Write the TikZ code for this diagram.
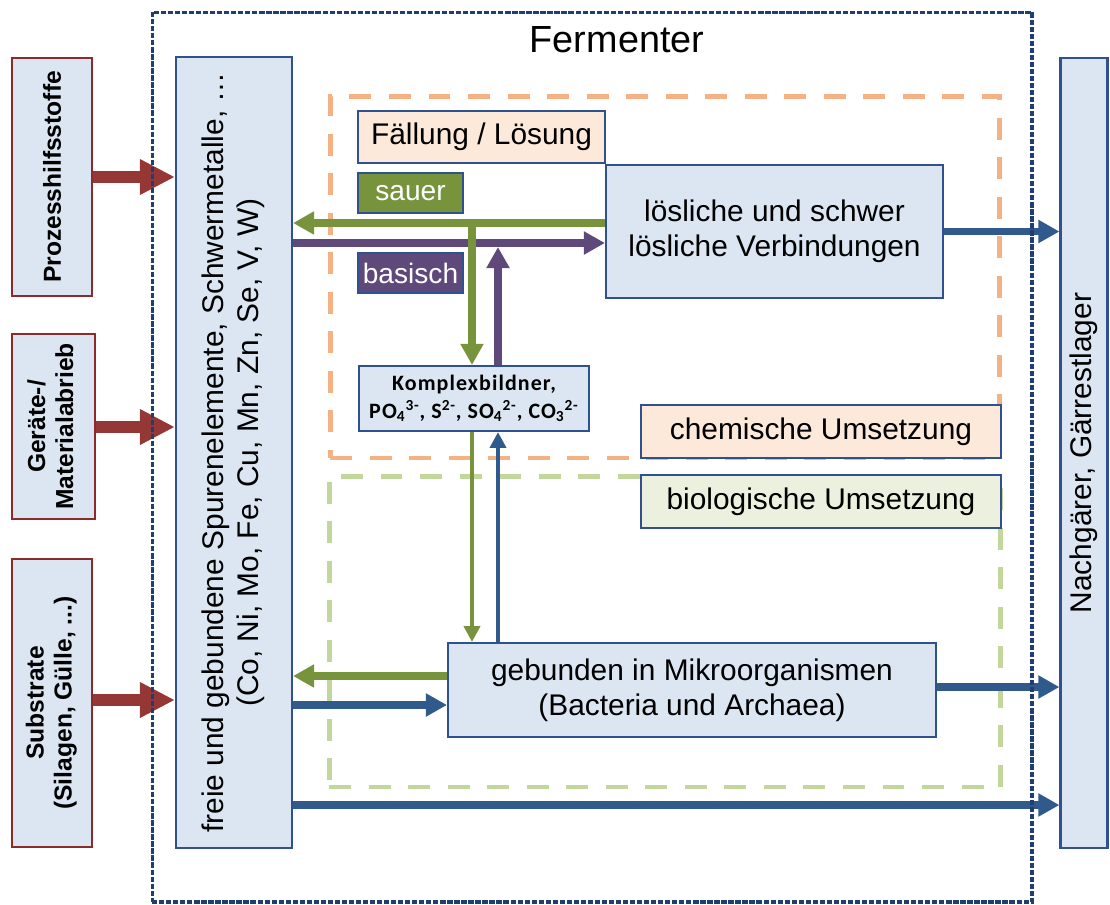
\documentclass[tikz,border=0pt]{standalone}
\usepackage{fontspec}
\setmainfont{Liberation Sans}
\newfontfamily\komfont[LetterSpace=5]{Carlito}
\usetikzlibrary{arrows.meta}
\definecolor{fillblue}{HTML}{DCE6F2}
\definecolor{edgeblue}{HTML}{2F528F}
\definecolor{rededge}{HTML}{8B2B2B}
\definecolor{redarrow}{HTML}{953735}
\definecolor{agreen}{HTML}{77933C}
\definecolor{apurple}{HTML}{5F497A}
\definecolor{ablue}{HTML}{305A8C}
\definecolor{peach}{HTML}{FDE9D9}
\definecolor{lightgreen}{HTML}{EBF1DE}
\definecolor{orangedash}{HTML}{F4B183}
\definecolor{greendash}{HTML}{C3D69B}
\definecolor{navy}{HTML}{1F3F73}
\begin{document}
\begin{tikzpicture}[x=0.02cm,y=-0.02cm,
  box/.style={draw=edgeblue, line width=1.2pt, fill=fillblue, inner sep=0pt, align=center,
    font=\fontsize{17}{20}\selectfont},
  redbox/.style={box, draw=rededge, font=\bfseries\fontsize{14}{16}\selectfont},
  tagbox/.style={box, text=white, font=\fontsize{16}{19}\selectfont},
  zone/.style={line width=2.8pt, dash pattern=on 12.5pt off 10pt, inner sep=0pt},
  redarr/.style={draw=redarrow, line width=6.8pt, -{Triangle[length=20pt,width=19pt]}},
  garr/.style={draw=agreen, line width=4pt, -{Triangle[length=12pt,width=12.5pt]}},
  parr/.style={draw=apurple, line width=4pt, -{Triangle[length=12pt,width=12.5pt]}},
  barr/.style={draw=ablue, line width=4pt, -{Triangle[length=12pt,width=12.5pt]}},
  garrthin/.style={draw=agreen, line width=2.6pt, -{Triangle[length=9pt,width=9pt]}},
  barrthin/.style={draw=ablue, line width=2.6pt, -{Triangle[length=9pt,width=9pt]}},
]
\useasboundingbox (0,0) rectangle (1110,904);

% zones
\node[zone, draw=orangedash, minimum width=13.4cm, minimum height=7.24cm] (chemzone) at (665,277) {};
\node[zone, draw=greendash, minimum width=13.44cm, minimum height=6.22cm] (biozone) at (665,631.5) {};

% left input boxes
\node[redbox, minimum width=1.6cm, minimum height=4.76cm] (proz) at (52,177)
  {\rotatebox{90}{Prozesshilfsstoffe}};
\node[redbox, minimum width=1.66cm, minimum height=3.7cm] (ger) at (53.5,426.5)
  {\rotatebox{90}{\begin{tabular}{@{}c@{}}Geräte-/\\Materialabrieb\end{tabular}}};
\node[redbox, minimum width=1.6cm, minimum height=5.76cm] (sub) at (52,703)
  {\rotatebox{90}{\begin{tabular}{@{}c@{}}Substrate\\(Silagen, Gülle, ...)\end{tabular}}};

% main column
\node[box, minimum width=2.32cm, minimum height=15.82cm] (big) at (234,452.5)
  {\rotatebox{90}{\begin{tabular}{@{}c@{}}freie und gebundene Spurenelemente, Schwermetalle, …\\(Co, Ni, Mo, Fe, Cu, Mn, Zn, Se, V, W)\end{tabular}}};
\node[box, minimum width=0.94cm, minimum height=15.8cm] (right) at (1084,453)
  {\rotatebox{90}{Nachgärer, Gärrestlager}};

% inner boxes
\node[box, fill=peach, minimum width=4.94cm, minimum height=1.04cm] (fal) at (481.5,137) {Fällung / Lösung};
\node[tagbox, fill=agreen, minimum width=2.1cm, minimum height=0.8cm] (sauer) at (410.5,193) {sauer};
\node[tagbox, fill=apurple, minimum width=2.1cm, minimum height=0.8cm] (basisch) at (410.5,273) {basisch};
\node[box, minimum width=6.74cm, minimum height=2.66cm] (loes) at (774.5,231.5)
  {lösliche und schwer\\lösliche Verbindungen};
\node[box, minimum width=4.6cm, minimum height=1.3cm,
  font=\komfont\bfseries\fontsize{12.5}{16}\selectfont] (kom) at (474,398.5)
  {Komplexbildner,\\PO\textsubscript{4}\textsuperscript{3-}, S\textsuperscript{2-}, SO\textsubscript{4}\textsuperscript{2-}, CO\textsubscript{3}\textsuperscript{2-}};
\node[box, fill=peach, minimum width=7.2cm, minimum height=1.06cm] (chem) at (821,431.5) {chemische Umsetzung};
\node[box, fill=lightgreen, minimum width=7.2cm, minimum height=1.06cm] (bio) at (821,501.5) {biologische Umsetzung};
\node[box, minimum width=9.76cm, minimum height=1.88cm] (mik) at (692,690)
  {gebunden in Mikroorganismen\\(Bacteria und Archaea)};

% helper coordinates
\coordinate (yg) at (0,223);
\coordinate (yp) at (0,243);
\coordinate (yp2) at (0,247);
\coordinate (xg) at (472,0);
\coordinate (xb) at (498,0);
\coordinate (yrg) at (0,427);
\coordinate (yrs) at (0,700);
\coordinate (ymg) at (0,676);
\coordinate (ymb) at (0,705);
\coordinate (ymr) at (0,687);
\coordinate (ybot) at (0,805);
\coordinate (jg) at (xg |- yg);

% red input arrows
\draw[redarr] (proz.east) -- (proz.east -| big.west);
\draw[redarr] (ger.east |- yrg) -- (big.west |- yrg);
\draw[redarr] (sub.east |- yrs) -- (big.west |- yrs);

% upper connectors
\draw[garr] (loes.west |- yg) -- (big.east |- yg);
\draw[parr] (big.east |- yp) -- (loes.west |- yp);
\draw[garr] (jg) -- (kom.north -| xg);
\draw[parr] (kom.north -| xb) -- (xb |- yp2);
\draw[barr] (loes.east) -- (loes.east -| right.west);

% lower connectors
\draw[garrthin] (kom.south -| xg) -- (mik.north -| xg);
\draw[barrthin] (mik.north -| xb) -- (kom.south -| xb);
\draw[garr] (mik.west |- ymg) -- (big.east |- ymg);
\draw[barr] (big.east |- ymb) -- (mik.west |- ymb);
\draw[barr] (mik.east |- ymr) -- (right.west |- ymr);
\draw[barr] (big.east |- ybot) -- (right.west |- ybot);

% fermenter frame
\node[draw=navy, line width=1.8pt, dash pattern=on 3pt off 1pt, inner sep=0pt,
  minimum width=17.6cm, minimum height=17.8cm] (ferm) at (592,457) {};
\node[font=\fontsize{21.5}{24}\selectfont] (fermlabel) at (617,40) {Fermenter};
\end{tikzpicture}
\end{document}
